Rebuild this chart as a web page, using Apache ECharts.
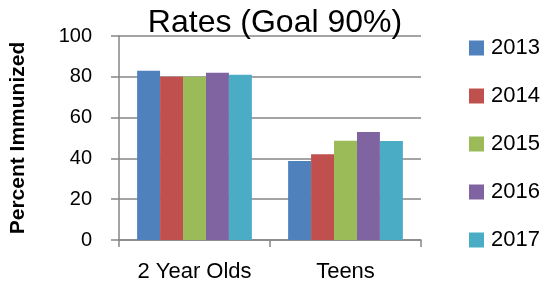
<!DOCTYPE html>
<html>
<head>
<meta charset="utf-8">
<script src="https://cdn.jsdelivr.net/npm/echarts@6/dist/echarts.min.js"></script>
<style>
  html, body { margin: 0; padding: 0; background: #fff; }
  #chart { width: 542px; height: 289px; }
</style>
</head>
<body>
<div id="chart"></div>
<script>
// 数据
var categories = ['2 Year Olds', 'Teens'];
var years = ['2013', '2014', '2015', '2016', '2017'];
var values2013 = [83, 38.7];
var values2014 = [80, 42];
var values2015 = [80, 48.7];
var values2016 = [82, 53];
var values2017 = [81, 48.5];
var colors = ['#4F81BD', '#C0504D', '#9BBB59', '#8064A2', '#4BACC6'];

var allValues = [values2013, values2014, values2015, values2016, values2017];
var font = 'Liberation Sans, Arial, sans-serif';

var myChart = echarts.init(document.getElementById('chart'));

var series = years.map(function (y, i) {
    return {
        name: y,
        type: 'bar',
        data: allValues[i],
        barGap: '0%',
        barCategoryGap: '24%',
        itemStyle: { color: colors[i] }
    };
});

myChart.setOption({
    animation: false,
    title: {
        text: 'Rates (Goal 90%)',
        left: 270,
        textAlign: 'center',
        top: 2,
        textStyle: { fontFamily: font, fontSize: 32, fontWeight: 'normal', color: '#000' }
    },
    legend: {
        orient: 'vertical',
        left: 464,
        top: 32,
        itemWidth: 15,
        itemHeight: 15,
        itemGap: 26,
        icon: 'rect',
        textStyle: { fontFamily: font, fontSize: 22, color: '#000', padding: [0, 0, 0, 2] },
        data: years
    },
    grid: {
        left: 118,
        right: 121,
        top: 36,
        bottom: 49
    },
    xAxis: {
        type: 'category',
        data: categories,
        axisLine: { lineStyle: { color: '#868686', width: 1.5 } },
        axisTick: { show: true, length: 7, lineStyle: { color: '#868686', width: 1.5 } },
        axisLabel: { fontFamily: font, fontSize: 22, color: '#000', margin: 21 }
    },
    yAxis: {
        type: 'value',
        min: 0,
        max: 100,
        interval: 20,
        name: 'Percent Immunized',
        nameLocation: 'middle',
        nameGap: 90,
        nameTextStyle: { fontFamily: font, fontSize: 21, fontWeight: 'bold', color: '#000' },
        axisLine: { show: true, lineStyle: { color: '#868686', width: 1.5 } },
        axisTick: { show: true, length: 8, lineStyle: { color: '#868686', width: 1.5 } },
        splitLine: { lineStyle: { color: '#868686', width: 1.5 } },
        axisLabel: { fontFamily: font, fontSize: 20, color: '#000', margin: 27 }
    },
    series: series
});
</script>
</body>
</html>
